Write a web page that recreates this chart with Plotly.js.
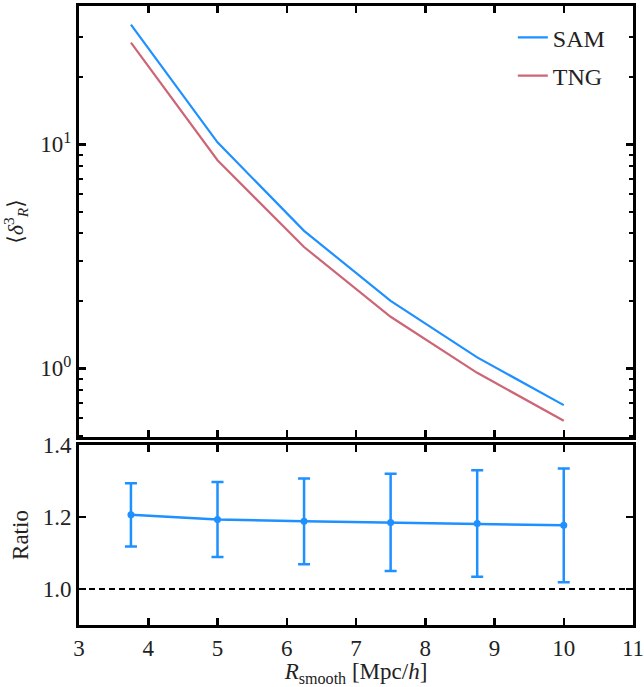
<!DOCTYPE html>
<html>
<head>
<meta charset="utf-8">
<script src="https://cdn.plot.ly/plotly-3.0.1.min.js"></script>
<style>html,body{margin:0;padding:0;background:#fff;}</style>
</head>
<body>
<div id="chart" style="width:644px;height:687px;"></div>
<script>
// Data
const rSmooth = [3.75, 5.0, 6.25, 7.5, 8.75, 10.0];
const samSkew = [34.2, 10.2, 4.11, 2.00, 1.12, 0.686];
const tngSkew = [28.4, 8.49, 3.48, 1.70, 0.956, 0.584];
const ratio    = [1.206, 1.193, 1.188, 1.185, 1.182, 1.177];
const ratioErr = [0.088, 0.104, 0.119, 0.135, 0.148, 0.158];
const seriesNames = ['SAM', 'TNG'];
const logMajorVals = [1, 10];
const logMajorText = ['10<sup>0</sup>', '10<sup>1</sup>'];
const logMinorVals = [0.5, 0.6, 0.7, 0.8, 0.9, 2, 3, 4, 5, 6, 7, 8, 9, 20, 30];
const ratioTicks = [1.0, 1.2, 1.4];
const refLine = 1.0;

const blue = '#1E90FF';
const rose = '#CC6677';
const font = 'Liberation Serif, DejaVu Serif, serif';
const txt = '#222';

const traces = [
  {x: rSmooth, y: samSkew, name: seriesNames[0], legendgroup: 'a', type: 'scatter', mode: 'lines',
   line: {color: blue, width: 2.2}, xaxis: 'x', yaxis: 'y'},
  {x: rSmooth, y: tngSkew, name: seriesNames[1], legendgroup: 'b', type: 'scatter', mode: 'lines',
   line: {color: rose, width: 2.2}, xaxis: 'x', yaxis: 'y'},
  {x: rSmooth, y: ratio, type: 'scatter', mode: 'lines+markers', showlegend: false,
   line: {color: blue, width: 2.5}, marker: {color: blue, size: 7},
   error_y: {type: 'data', array: ratioErr, visible: true, color: blue, thickness: 2.5, width: 6},
   xaxis: 'x2', yaxis: 'y2'}
];

const axisCommon = {
  showline: true, linecolor: '#000', linewidth: 3, mirror: 'ticks',
  ticks: 'inside', tickcolor: '#000', tickwidth: 2.5, ticklen: 7,
  showgrid: false, zeroline: false, ticklabeloverflow: 'allow',
  tickfont: {family: font, size: 23, color: txt}
};

const layout = {
  width: 644, height: 687,
  margin: {l: 79, r: 11, t: 6, b: 62},
  paper_bgcolor: '#fff', plot_bgcolor: '#fff',
  font: {family: font, size: 23, color: txt},
  showlegend: true,
  legend: {x: 0.96, xanchor: 'right', y: 0.985, yanchor: 'top',
           traceorder: 'grouped', tracegroupgap: 4,
           bgcolor: 'rgba(0,0,0,0)', borderwidth: 0,
           font: {family: font, size: 24, color: txt}},
  xaxis: Object.assign({}, axisCommon, {
    domain: [0, 1], anchor: 'y', range: [3, 11], dtick: 1, tick0: 3,
    showticklabels: false
  }),
  yaxis: Object.assign({}, axisCommon, {
    domain: [0.3037, 1], anchor: 'x', type: 'log', range: [-0.306, 1.617],
    tickmode: 'array', tickvals: logMajorVals, ticktext: logMajorText,
    minor: {ticks: 'inside', tickmode: 'array', tickvals: logMinorVals,
            ticklen: 4, tickwidth: 2, tickcolor: '#000'},
    title: {text: '⟨<i>δ</i><sup>3</sup><sub><i>R</i></sub>⟩', standoff: 12,
            font: {family: font, size: 22, color: txt}}
  }),
  xaxis2: Object.assign({}, axisCommon, {
    domain: [0, 1], anchor: 'y2', range: [3, 11], dtick: 1, tick0: 3,
    ticklabelstandoff: 0,
    title: {text: '<i>R</i><sub>smooth</sub> [Mpc/<i>h</i>]', standoff: 0,
            font: {family: font, size: 23, color: txt}}
  }),
  yaxis2: Object.assign({}, axisCommon, {
    domain: [0, 0.2908], anchor: 'x2', range: [0.9, 1.4],
    tickmode: 'array', tickvals: ratioTicks, tickformat: '.1f',
    title: {text: 'Ratio', standoff: 8, font: {family: font, size: 23, color: txt}}
  }),
  shapes: [{type: 'line', xref: 'x2 domain', yref: 'y2', x0: 0, x1: 1,
            y0: refLine, y1: refLine, line: {color: '#000', width: 1.8, dash: '6px,4px'}}]
};

Plotly.newPlot('chart', traces, layout, {staticPlot: true, displayModeBar: false});
</script>
</body>
</html>
